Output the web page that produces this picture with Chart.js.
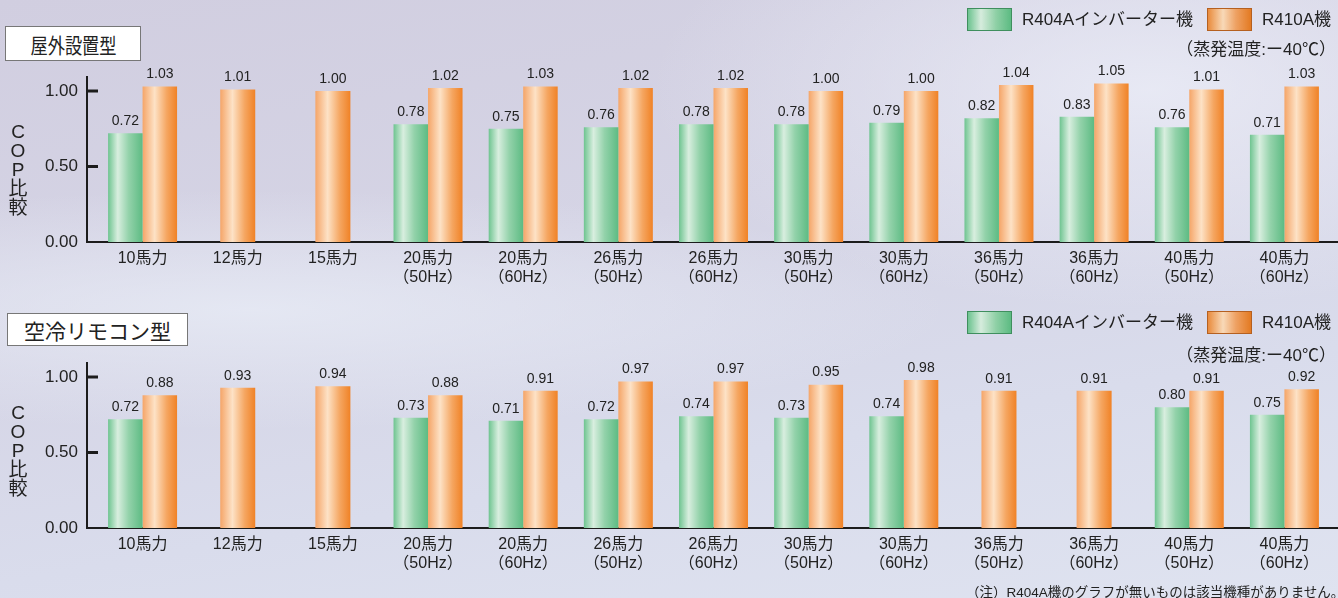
<!DOCTYPE html>
<html lang="ja">
<head>
<meta charset="utf-8">
<script src="https://cdn.jsdelivr.net/npm/chart.js@4.4.1/dist/chart.umd.min.js"></script>
<style>
  body {
    margin: 0; width: 1338px; height: 598px; overflow: hidden; position: relative;
    font-family: "Liberation Sans", "Noto Sans CJK JP", sans-serif; color: #222;
    background:
      radial-gradient(ellipse 500px 220px at 1150px 90px, rgba(236,238,248,0.8), rgba(236,238,248,0) 100%),
      radial-gradient(ellipse 700px 120px at 250px 310px, rgba(232,236,246,0.8), rgba(232,236,246,0) 100%),
      linear-gradient(170deg, #d1cee0 0%, #d5d4e5 40%, #d9dcec 70%, #dfe3f0 100%);
  }
  canvas { position: absolute; left: 0; }
  .box { position: absolute; background: #fff; border: 1px solid #777; box-sizing: border-box;
         font-family: "Noto Sans CJK JP", sans-serif; font-weight: 400; font-size: 21px;
         display: flex; align-items: center; justify-content: center; color: #222; }
  .sw { position: absolute; width: 45px; height: 23px; box-sizing: border-box; }
  .sw.green { border: 1px solid #3f8f5e;
    background: linear-gradient(90deg, #6cc38f 0%, #d6ecdd 30%, #8fd0a6 65%, #5cbb82 100%); }
  .sw.orange { border: 1px solid #b56020;
    background: linear-gradient(90deg, #e98b3c 0%, #f8d9b8 35%, #eea163 65%, #e37a22 100%); }
  .lt { position: absolute; font-size: 17px; line-height: 23px; white-space: nowrap; }
  .evap { position: absolute; right: 2px; font-size: 17px; white-space: nowrap; }
  .ytitle { position: absolute; left: 7px; width: 22px; text-align: center;
            font-size: 19px; line-height: 19px; }
  .note { position: absolute; left: 966px; top: 581px; font-size: 13.5px; white-space: nowrap; }
</style>
</head>
<body>
<canvas id="chartOutdoor" width="1338" height="300" style="top:0"></canvas>
<canvas id="chartRemote" width="1338" height="300" style="top:286px"></canvas>

<div class="box" style="left:5px;top:26px;width:136px;height:35px;"><span style="display:inline-block;transform:scaleX(0.82)">屋外設置型</span></div>
<div class="box" style="left:7px;top:313px;width:181px;height:33px;">空冷リモコン型</div>

<div class="sw green" style="left:967px;top:8px"></div>
<div class="lt" style="left:1022px;top:8px">R404Aインバーター機</div>
<div class="sw orange" style="left:1207px;top:8px"></div>
<div class="lt" style="left:1262px;top:8px">R410A機</div>
<div class="evap" style="top:35px">（蒸発温度:ー40℃）</div>

<div class="sw green" style="left:967px;top:311px"></div>
<div class="lt" style="left:1022px;top:311px">R404Aインバーター機</div>
<div class="sw orange" style="left:1207px;top:311px"></div>
<div class="lt" style="left:1262px;top:311px">R410A機</div>
<div class="evap" style="top:341px">（蒸発温度:ー40℃）</div>

<div class="ytitle" style="top:122px">C<br>O<br>P<br>比<br>較</div>
<div class="ytitle" style="top:403px">C<br>O<br>P<br>比<br>較</div>

<div class="note">（注）R404A機のグラフが無いものは該当機種がありません。</div>

<script>
const categories = [
  '10馬力', '12馬力', '15馬力',
  ['20馬力', '（50Hz）'], ['20馬力', '（60Hz）'],
  ['26馬力', '（50Hz）'], ['26馬力', '（60Hz）'],
  ['30馬力', '（50Hz）'], ['30馬力', '（60Hz）'],
  ['36馬力', '（50Hz）'], ['36馬力', '（60Hz）'],
  ['40馬力', '（50Hz）'], ['40馬力', '（60Hz）']
];
const yTicks = [0, 0.5, 1.0];

// 屋外設置型
const outdoorR404A = [0.72, null, null, 0.78, 0.75, 0.76, 0.78, 0.78, 0.79, 0.82, 0.83, 0.76, 0.71];
const outdoorR410A = [1.03, 1.01, 1.00, 1.02, 1.03, 1.02, 1.02, 1.00, 1.00, 1.04, 1.05, 1.01, 1.03];

// 空冷リモコン型
const remoteR404A = [0.72, null, null, 0.73, 0.71, 0.72, 0.74, 0.73, 0.74, null, null, 0.80, 0.75];
const remoteR410A = [0.88, 0.93, 0.94, 0.88, 0.91, 0.97, 0.97, 0.95, 0.98, 0.91, 0.91, 0.91, 0.92];

const FONT = '"Liberation Sans", "Noto Sans CJK JP", sans-serif';

// horizontal gradient stops for each dataset (green, orange)
const barStops = [
  [[0, '#6ec490'], [0.28, '#d8eedf'], [0.6, '#93d2aa'], [1, '#5dbb83']],
  [[0, '#f5a568'], [0.35, '#fde2c6'], [0.7, '#f5a661'], [1, '#f08226']]
];

const gradientBars = {
  id: 'gradientBars',
  beforeDatasetsDraw(chart) {
    const ctx = chart.ctx;
    chart.data.datasets.forEach((ds, i) => {
      chart.getDatasetMeta(i).data.forEach(bar => {
        if (bar.skip || bar.width == null) return;
        const left = bar.x - bar.width / 2;
        const g = ctx.createLinearGradient(left, 0, left + bar.width, 0);
        barStops[i].forEach(([o, c]) => g.addColorStop(o, c));
        bar.options.backgroundColor = g;
      });
    });
  }
};

const axisLines = {
  id: 'axisLines',
  beforeDatasetsDraw(chart) {
    const { ctx, chartArea, scales: { y } } = chart;
    const ax = chartArea.left - 8;
    const y0 = y.getPixelForValue(0);
    ctx.save();
    ctx.strokeStyle = '#1c1c1c';
    ctx.lineWidth = 2;
    ctx.beginPath();
    ctx.moveTo(ax, chartArea.top);
    ctx.lineTo(ax, y0 + 1);
    ctx.moveTo(ax, y0);
    ctx.lineTo(chart.width, y0);
    ctx.stroke();
    ctx.lineWidth = 3;
    ctx.beginPath();
    y.ticks.forEach(t => {
      if (t.value === 0) return;
      const py = y.getPixelForValue(t.value);
      ctx.moveTo(ax, py);
      ctx.lineTo(ax + 11, py);
    });
    ctx.stroke();
    ctx.restore();
  }
};

const valueLabels = {
  id: 'valueLabels',
  afterDatasetsDraw(chart) {
    const ctx = chart.ctx;
    ctx.save();
    ctx.font = '14px ' + FONT;
    ctx.fillStyle = '#222';
    ctx.textAlign = 'center';
    ctx.textBaseline = 'bottom';
    chart.data.datasets.forEach((ds, i) => {
      chart.getDatasetMeta(i).data.forEach((bar, j) => {
        const v = ds.data[j];
        if (v == null) return;
        ctx.fillText(v.toFixed(2), bar.x, bar.y - 5);
      });
    });
    ctx.restore();
  }
};

function makeChart(id, green, orange) {
  return new Chart(document.getElementById(id), {
    type: 'bar',
    data: {
      labels: categories,
      datasets: [
        { label: 'R404Aインバーター機', data: green, backgroundColor: () => '#7fcb9c' },
        { label: 'R410A機', data: orange, backgroundColor: () => '#f5a661' }
      ]
    },
    options: {
      responsive: false,
      animation: false,
      events: [],
      skipNull: true,
      categoryPercentage: 0.725,
      barPercentage: 1,
      maxBarThickness: 35,
      borderWidth: 0,
      layout: { padding: { top: 76, right: 6, bottom: 0, left: 0 } },
      plugins: { legend: { display: false }, tooltip: { enabled: false } },
      scales: {
        x: {
          grid: { display: false, drawTicks: false },
          border: { display: false },
          ticks: { color: '#222', font: { family: FONT, size: 16 }, padding: 7, maxRotation: 0, autoSkip: false },
          afterFit: s => { s.height = 58; }
        },
        y: {
          min: 0, max: 1.1,
          grid: { display: false, drawTicks: false },
          border: { display: false },
          afterBuildTicks: s => { s.ticks = yTicks.map(v => ({ value: v })); },
          ticks: { color: '#222', font: { family: FONT, size: 17 }, padding: 17, callback: v => Number(v).toFixed(2) },
          afterFit: s => { s.width = 95; }
        }
      }
    },
    plugins: [axisLines, gradientBars, valueLabels]
  });
}

makeChart('chartOutdoor', outdoorR404A, outdoorR410A);
makeChart('chartRemote', remoteR404A, remoteR410A);
</script>
</body>
</html>
